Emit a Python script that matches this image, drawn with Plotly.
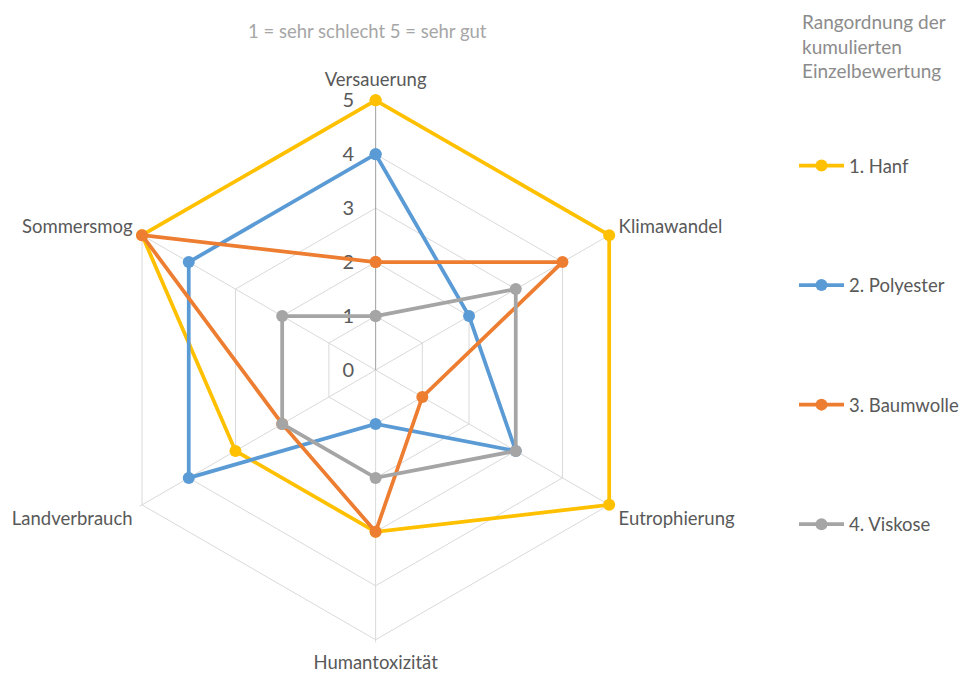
import plotly.graph_objects as go

categories = ["Versauerung", "Klimawandel", "Eutrophierung",
              "Humantoxizität", "Landverbrauch", "Sommersmog"]

series_names = ["1. Hanf", "2. Polyester", "3. Baumwolle", "4. Viskose"]
hanf = [5, 5, 5, 3, 3, 5]
polyester = [4, 2, 3, 1, 4, 4]
baumwolle = [2, 4, 1, 3, 2, 5]
viskose = [1, 3, 3, 2, 2, 2]
series_values = [hanf, polyester, baumwolle, viskose]
series_colors = ["#FFC000", "#5B9BD5", "#ED7D31", "#A5A5A5"]

radial_ticks = [0, 1, 2, 3, 4, 5]
r_max = 5
r_pad = 0.05  # small headroom so lines on the outer ring are not clipped

FONT = "Lato"
W, H = 964, 673
cx, cy, R5 = 376, 370, 270          # centre and radius of the value-5 ring
R = R5 * (r_max + r_pad) / r_max    # radius of the full polar domain

fig = go.Figure()
for name, vals, col in zip(series_names, series_values, series_colors):
    fig.add_trace(go.Scatterpolar(
        r=vals + vals[:1],
        theta=categories + categories[:1],
        mode="lines+markers",
        name=name,
        legendgroup=name,
        cliponaxis=False,
        line=dict(color=col, width=3.75),
        marker=dict(color=col, size=12),
    ))

fig.update_layout(
    width=W, height=H,
    margin=dict(l=0, r=0, t=0, b=0),
    paper_bgcolor="white",
    plot_bgcolor="white",
    font=dict(family=FONT, size=18, color="#595959"),
    polar=dict(
        domain=dict(x=[(cx - R) / W, (cx + R) / W],
                    y=[(H - cy - R) / H, (H - cy + R) / H]),
        bgcolor="white",
        gridshape="linear",
        radialaxis=dict(
            range=[0, r_max + r_pad],
            tickvals=radial_ticks,
            angle=90,
            tickangle=90,
            side="counterclockwise",
            showline=True,
            linecolor="#A6A6A6",
            linewidth=1,
            gridcolor="#D9D9D9",
            ticks="outside",
            ticklen=14,
            tickcolor="rgba(0,0,0,0)",
            layer="below traces",
            tickfont=dict(family=FONT, size=20, color="#595959"),
        ),
        angularaxis=dict(
            direction="clockwise",
            rotation=90,
            showline=False,
            gridcolor="#D9D9D9",
            ticks="outside",
            ticklen=4,
            tickcolor="rgba(0,0,0,0)",
            layer="below traces",
            tickfont=dict(family=FONT, size=18.5, color="#595959"),
        ),
    ),
    legend=dict(
        x=795 / W, xanchor="left",
        y=1 - 147 / H, yanchor="top",
        tracegroupgap=92.5,
        itemwidth=45,
        font=dict(family=FONT, size=18.5, color="#595959"),
        bgcolor="rgba(0,0,0,0)",
    ),
    annotations=[
        dict(text="1 = sehr schlecht 5 = sehr gut", x=368 / W, y=1 - 18 / H,
             xref="paper", yref="paper", showarrow=False,
             font=dict(family=FONT, size=18.5, color="#A6A6A6")),
        dict(text="Rangordnung der<br>kumulierten<br>Einzelbewertung",
             x=801 / W, y=1 - 8 / H, xref="paper", yref="paper",
             xanchor="left", yanchor="top", align="left", showarrow=False,
             font=dict(family=FONT, size=19, color="#8C8C8C")),
    ],
)

fig.write_html("out.html")
